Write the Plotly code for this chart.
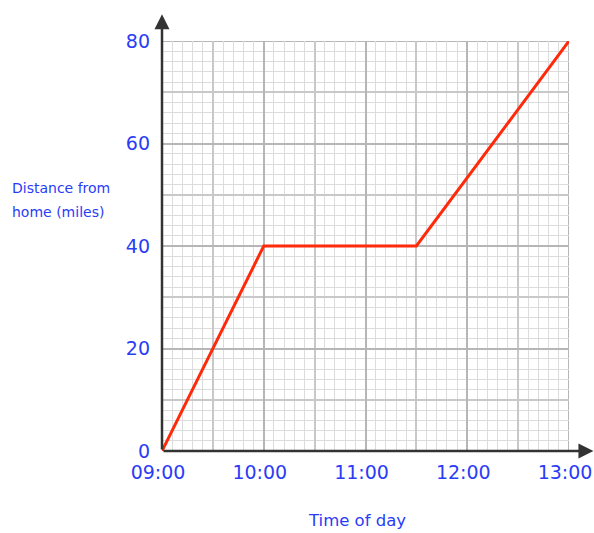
import plotly.graph_objects as go

times = ["09:00", "10:00", "11:30", "13:00"]
distance = [0, 40, 40, 80]
x_tick_labels = ["09:00", "10:00", "11:00", "12:00", "13:00"]
y_tick_values = [0, 20, 40, 60, 80]


def to_hours(t):
    h, m = t.split(":")
    return int(h) + int(m) / 60


hours = [to_hours(t) for t in times]
x_tick_values = [to_hours(t) for t in x_tick_labels]

BLUE = "#2a3cf5"
FONT = "DejaVu Sans"

fig = go.Figure()
fig.add_trace(go.Scatter(
    x=hours, y=distance, mode="lines", xaxis="x2", yaxis="y2",
    line=dict(color="#ff2a0a", width=3), showlegend=False,
    hoverinfo="skip", cliponaxis=False,
))

x_range = [9, 13]
y_range = [0, 80]

fig.update_layout(
    width=594, height=533,
    margin=dict(l=162, r=25, t=41, b=82, autoexpand=False),
    plot_bgcolor="white", paper_bgcolor="white",
    xaxis=dict(
        range=x_range, dtick=0.5, tick0=9, showticklabels=False, automargin=False,
        showgrid=True, gridcolor="#c8c8c8", gridwidth=1.7, zeroline=False,
        showline=False,
        minor=dict(dtick=0.1, tick0=9, showgrid=True, gridcolor="#dcdcdc", gridwidth=1.2),
    ),
    yaxis=dict(
        range=y_range, dtick=10, tick0=0, showticklabels=False, automargin=False,
        showgrid=True, gridcolor="#c8c8c8", gridwidth=1.7, zeroline=False,
        showline=False,
        minor=dict(dtick=2, tick0=0, showgrid=True, gridcolor="#dcdcdc", gridwidth=1.2),
    ),
    xaxis2=dict(
        range=x_range, overlaying="x", anchor="y2", side="bottom", automargin=False,
        tickmode="array", tickvals=x_tick_values, ticktext=x_tick_labels,
        showgrid=True, gridcolor="#b6b6b6", gridwidth=2, zeroline=False,
        showline=False, ticks="", ticklabelstandoff=8, ticklabelshift=-4,
        ticklabeloverflow="allow",
        tickfont=dict(family=FONT, size=19, color=BLUE),
    ),
    yaxis2=dict(
        range=y_range, overlaying="y", anchor="x2", side="left", automargin=False,
        tickmode="array", tickvals=y_tick_values,
        showgrid=True, gridcolor="#b6b6b6", gridwidth=2, zeroline=False,
        showline=False, ticks="", ticklabelstandoff=11,
        ticklabeloverflow="allow",
        tickfont=dict(family=FONT, size=19, color=BLUE),
    ),
)

# plot frame (top and right edges)
fig.add_shape(type="rect", xref="x", yref="y", x0=9, x1=13, y0=0, y1=80,
              line=dict(color="#b6b6b6", width=2), layer="below")

# axes with arrowheads
fig.add_annotation(xref="x2", yref="y2", axref="x2", ayref="y2",
                   x=9, y=85.2, ax=9, ay=0, showarrow=True, text="",
                   arrowhead=2, arrowsize=1.2, arrowwidth=2.5, arrowcolor="#333333", standoff=0)
fig.add_annotation(xref="x2", yref="y2", axref="x2", ayref="y2",
                   x=13.24, y=0, ax=9, ay=0, showarrow=True, text="",
                   arrowhead=2, arrowsize=1.2, arrowwidth=2.5, arrowcolor="#333333", standoff=0)

# axis titles (y title as two horizontal lines to the left)
fig.add_annotation(xref="paper", yref="paper", x=(10 - 162) / 407, y=(451 - 188) / 410,
                   xanchor="left", yanchor="middle", align="left", showarrow=False,
                   text="Distance from",
                   font=dict(family=FONT, size=14, color=BLUE))
fig.add_annotation(xref="paper", yref="paper", x=(10 - 162) / 407, y=(451 - 212) / 410,
                   xanchor="left", yanchor="middle", align="left", showarrow=False,
                   text="home (miles)",
                   font=dict(family=FONT, size=14, color=BLUE))
fig.add_annotation(xref="paper", yref="paper", x=(357 - 162) / 407, y=(451 - 520) / 410,
                   xanchor="center", yanchor="middle", showarrow=False,
                   text="Time of day",
                   font=dict(family=FONT, size=16.5, color=BLUE))

fig.write_html("out.html",
               config={"displayModeBar": False},
               post_script="document.body.style.margin='0';document.body.style.overflow='hidden';")
